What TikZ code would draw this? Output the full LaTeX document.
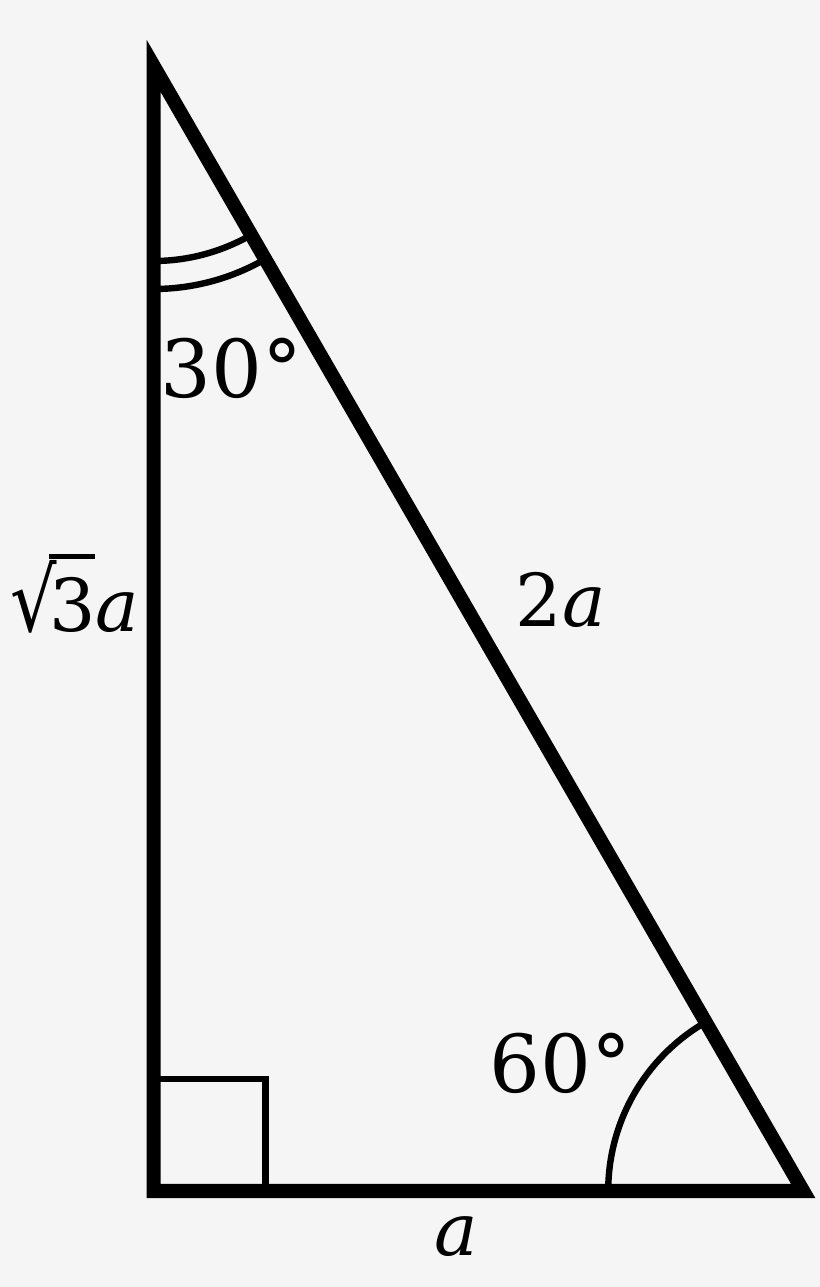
\documentclass[tikz,border=0pt]{standalone}
\usepackage{fontspec}
\setmainfont{DejaVu Serif}
\usepackage{tikz}
\definecolor{paper}{HTML}{F5F5F5}
\tikzstyle{side} = [line width=7pt, line join=miter]
\tikzstyle{angleArc} = [line width=3.2pt]
\tikzstyle{lbl} = [anchor=base, inner sep=0pt, font=\fontsize{40}{48}\selectfont]
\tikzstyle{sideLbl} = [anchor=base, inner sep=0pt, font=\fontsize{36.5}{44}\selectfont]

\begin{document}
\begin{tikzpicture}[x=0.5pt,y=0.5pt]
  \fill[paper] (-153.7,-96) rectangle (666.3,1191);
  \useasboundingbox (-153.7,-96) rectangle (666.3,1191);

  \coordinate (c) at (0,0);
  \coordinate (a) at (0,1125);
  \coordinate (b) at (649.5,0);

  % angle marks first, the sides cover their ends
  \draw[angleArc] (c) ++(0,112) -| ++(112,-112);
  \draw[angleArc] (a) ++(270:195) arc[start angle=270, end angle=300, radius=195];
  \draw[angleArc] (a) ++(270:223) arc[start angle=270, end angle=300, radius=223];
  \draw[angleArc] (b) ++(180:195) arc[start angle=180, end angle=120, radius=195];

  % sides
  \draw[side] (a) -- (c) -- (b) -- cycle;

  % labels
  \node[lbl] (ang30) at (78,793) {30°};
  \node[lbl] (ang60) at (407,98) {60°};
  \node[sideLbl] (sideA) at (303,-64) {\textit{a}};
  \node[sideLbl] (sideB) at (-79,559) {\scalebox{1}[1.2]{√}\kern-0.1em\rlap{\rule[1.0em]{0.62em}{0.065em}}3\textit{a}};
  \node[sideLbl] (sideC) at (407,564) {2\textit{a}};
\end{tikzpicture}
\end{document}
